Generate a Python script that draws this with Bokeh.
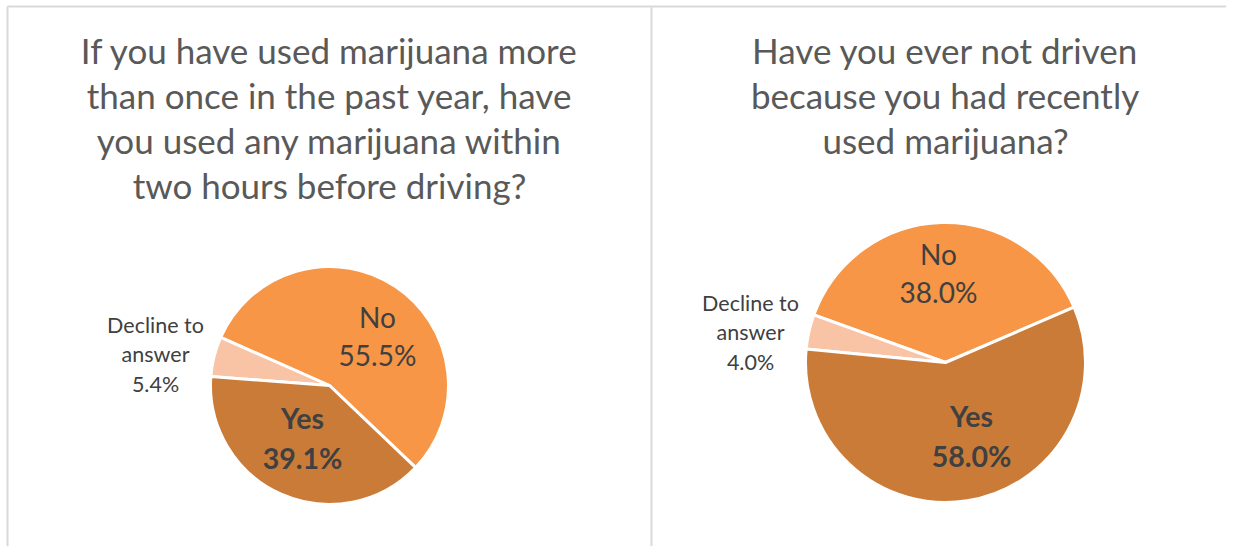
import math
from bokeh.plotting import figure
from bokeh.models import Range1d
from bokeh.core.properties import value
from bokeh.embed import file_html
from bokeh.resources import INLINE

# ---- data ----
categories = ["No", "Decline to answer", "Yes"]
left_values = [55.5, 5.4, 39.1]
right_values = [38.0, 4.0, 58.0]
left_title = ["If you have used marijuana more", "than once in the past year, have",
              "you used any marijuana within", "two hours before driving?"]
right_title = ["Have you ever not driven", "because you had recently", "used marijuana?"]
colors = ["#F79646", "#F9C3A6", "#CB7B38"]

W, H = 1226, 546
p = figure(width=W, height=H, x_range=Range1d(0, W), y_range=Range1d(-H, 0),
           output_backend="svg", toolbar_location=None, min_border=0)
p.axis.visible = False
p.grid.visible = False
p.outline_line_color = None
p.background_fill_color = "white"
p.border_fill_color = "white"

# panel borders
p.line([7, 1234], [-6, -6], line_color="#D9D9D9", line_width=2)
p.line([7, 7], [-6, -554], line_color="#D9D9D9", line_width=2)
p.line([651, 651], [-6, -554], line_color="#D9D9D9", line_width=2)

FONT = value("Lato")
TITLE_C = "#595959"
LAB_C = "#404040"

def draw_pie(cx, cy, r, vals, start_deg):
    a = math.radians(start_deg)
    starts, ends = [], []
    for v in vals:
        starts.append(a)
        a += v / 100.0 * 2 * math.pi
        ends.append(a)
    p.wedge(x=[cx] * len(vals), y=[-cy] * len(vals), radius=r,
            start_angle=starts, end_angle=ends, fill_color=colors,
            line_color="white", line_width=3)

def draw_title(cx, y0, lines, dy):
    ys = [-(y0 + i * dy) for i in range(len(lines))]
    p.text(x=[cx] * len(lines), y=ys, text=lines, text_font=FONT,
           text_font_size="35px", text_color=TITLE_C, text_align="center",
           text_baseline="middle")

def label(x, y, lines, size, bold=False, dy=38):
    ys = [-(y + i * dy) for i in range(len(lines))]
    p.text(x=[x] * len(lines), y=ys, text=lines, text_font=FONT,
           text_font_size=size, text_color=LAB_C, text_align="center",
           text_baseline="middle", text_font_style="bold" if bold else "normal")

# left chart
draw_title(329, 49, left_title, 45)
draw_pie(329, 385, 119, left_values, -43.6)
label(377, 316, [categories[0], f"{left_values[0]:.1f}%"], "28px")
label(302, 417, [categories[2], f"{left_values[2]:.1f}%"], "28.5px", bold=True, dy=40)
label(155, 324, ["Decline to", "answer", f"{left_values[1]:.1f}%"], "21.5px", dy=29.5)

# right chart
draw_title(945, 49, right_title, 45)
draw_pie(945, 362, 140, right_values, 23.3)
label(938, 253, [categories[0], f"{right_values[0]:.1f}%"], "28px")
label(971, 415, [categories[2], f"{right_values[2]:.1f}%"], "28.5px", bold=True, dy=40)
label(750, 302, ["Decline to", "answer", f"{right_values[1]:.1f}%"], "21.5px", dy=29.5)

open("out.html", "w").write(file_html(p, INLINE))
